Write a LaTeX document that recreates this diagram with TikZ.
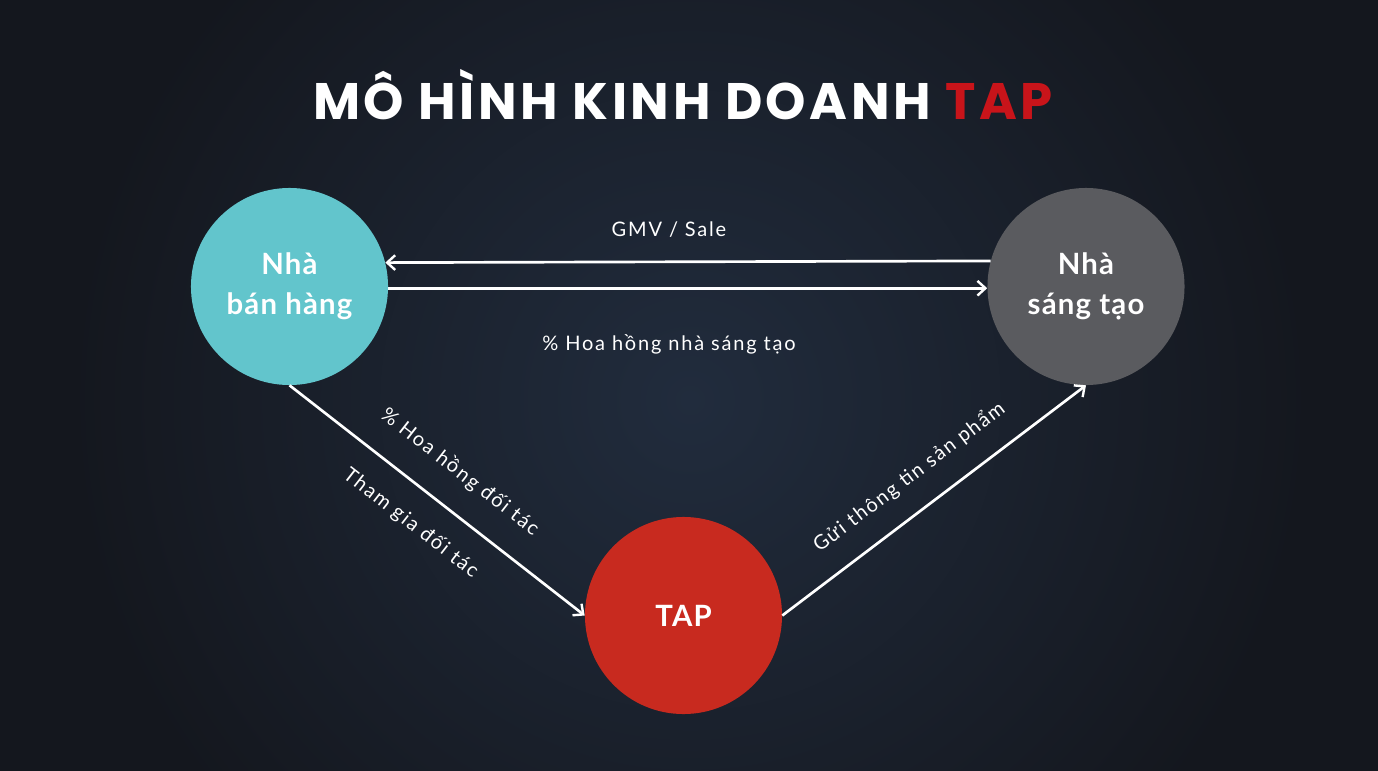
\documentclass[tikz,border=0pt]{standalone}
\usepackage{fontspec}
\setmainfont{Lato}
\newfontfamily\titlefont{Poppins}[LetterSpace=7]
\newfontfamily\circfont{Lato}[LetterSpace=4]
\newfontfamily\labfont{Lato}[LetterSpace=9]
\usetikzlibrary{arrows.meta}
\definecolor{bgout}{HTML}{14171E}
\definecolor{bgin}{HTML}{212C3D}
\definecolor{teal}{HTML}{62C5CC}
\definecolor{greyc}{HTML}{5A5B5F}
\definecolor{redc}{HTML}{C82A1F}
\definecolor{titlered}{HTML}{C8141A}
\tikzset{
  circ/.style={circle, minimum size=147.8pt, inner sep=0pt, text=white, align=center,
    font=\circfont\fontsize{22}{30}\selectfont\bfseries},
  conn/.style={draw=white, line width=2pt, -{Straight Barb[length=6pt,width=11pt,line width=1.8pt]}},
  lab/.style={text=white, font=\labfont\fontsize{15}{17}\selectfont, inner sep=0pt},
}
\begin{document}
\begin{tikzpicture}[x=0.75pt,y=-0.75pt]
\useasboundingbox (0,0) rectangle (1378,771);
\fill[bgout] (0,0) rectangle (1378,771);
\begin{scope}
\clip (0,0) rectangle (1378,771);
\shade[inner color=bgin, outer color=bgout] (690,400) circle (620);
\end{scope}
\node[font=\titlefont\fontsize{38.5}{40}\selectfont\bfseries, text=white, inner sep=0pt] (title) at (683,95)
  {MÔ HÌNH KINH DOANH \textcolor{titlered}{TAP}};
\node[circ, fill=teal] (bh) at (289.5,286.5) {Nhà\\bán hàng};
\node[circ, fill=greyc] (st) at (1086,286.5) {Nhà\\sáng tạo};
\node[circ, fill=redc] (tap) at (683.5,615.5) {\raisebox{-3pt}{TAP}};
\draw[conn] (st.165.6) -- (bh.14.4);
\draw[conn] (bh.-1) -- (st.181);
\draw[conn] (bh.-90) -- (tap.180);
\draw[conn] (tap.0) -- (st.-90);
\node[lab] (l1) at (669,230) {GMV / Sale};
\node[lab] (l2) at (669,344) {\% Hoa hồng nhà sáng tạo};
\node[lab, rotate=-37.9] (l3) at (460,472) {\% Hoa hồng đối tác};
\node[lab, rotate=-37.9] (l4) at (411,523) {Tham gia đối tác};
\node[lab, rotate=37.2] (l5) at (909,477) {Gửi thông tin sản phẩm};
\end{tikzpicture}
\end{document}
